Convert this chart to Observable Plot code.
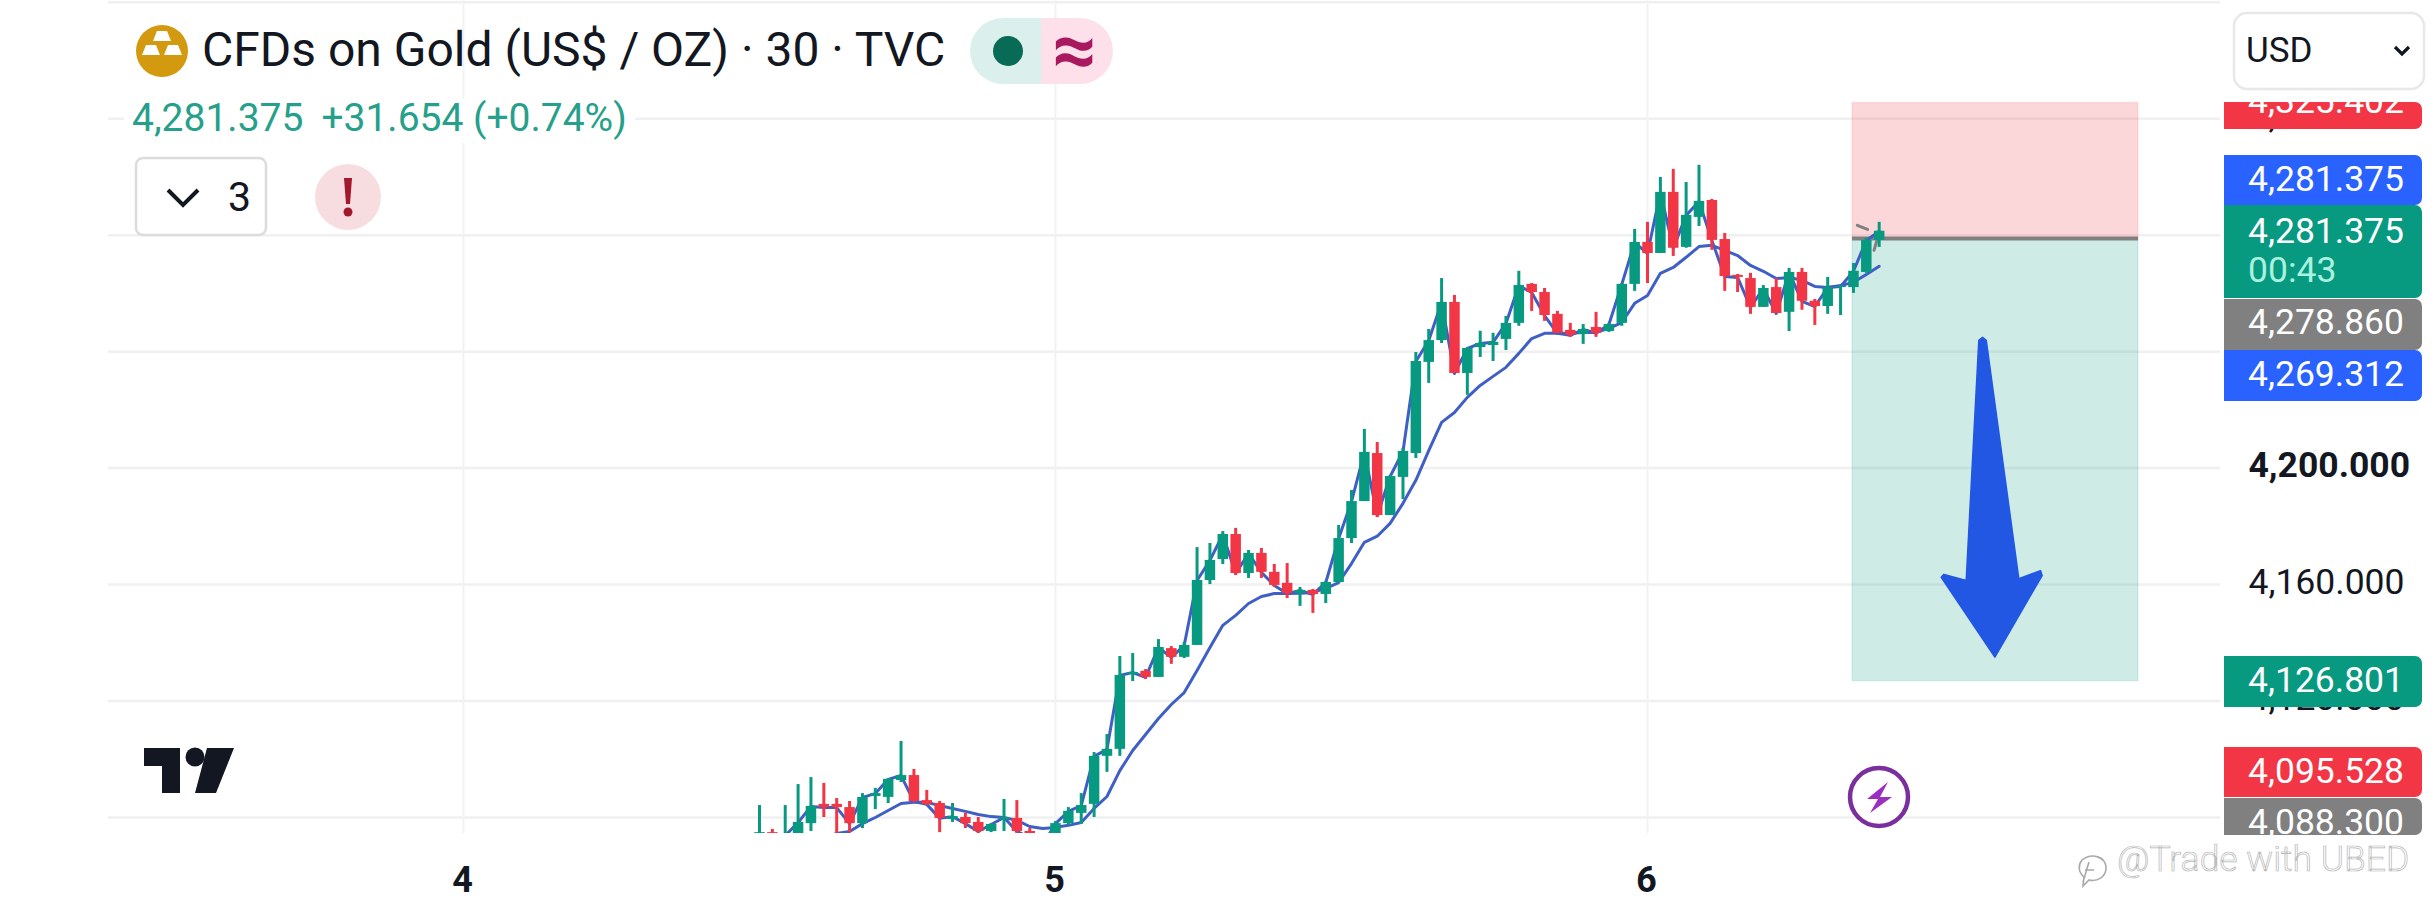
<!DOCTYPE html>
<html><head><meta charset="utf-8">
<script src="https://cdn.jsdelivr.net/npm/d3@7"></script>
<script src="https://cdn.jsdelivr.net/npm/@observablehq/plot@0.6"></script>
<style>
html,body{margin:0;padding:0;background:#fff;width:2436px;height:914px;overflow:hidden;font-family:Roboto,sans-serif}
#wrap{position:relative;width:2436px;height:914px}
#chart{position:absolute;left:0;top:0}
.o{position:absolute;white-space:nowrap;line-height:1}
.chip{position:absolute;left:2224px;width:198px;border-radius:0 7px 7px 0;color:#fff;overflow:hidden;font-size:35.5px}
.chip span{position:absolute;left:24px;line-height:1;white-space:nowrap}
svg.ov{position:absolute;left:0;top:0;pointer-events:none}
</style></head><body>
<div id="wrap"><div id="chart"></div>
<svg class="ov" width="2436" height="914" viewBox="0 0 2436 914">
  <circle cx="162" cy="51" r="26" fill="#d39a10"/>
  <path d="M157 32h10l4 10h-18z M146 46h10l4 10h-18z M168 46h10l4 10h-18z" fill="#fff" transform="translate(0 -1)"/>
  <rect x="136" y="158" width="130" height="77" rx="7" fill="#fff" stroke="#dcdcdc" stroke-width="2.5"/>
  <path d="M168 190l15 15 15-15" fill="none" stroke="#131722" stroke-width="4"/>
  <circle cx="348" cy="197" r="33" fill="#f8dde0"/>
  <path d="M344 178h8l-2 26h-4z" fill="#a3182a"/><circle cx="348" cy="212" r="4.5" fill="#a3182a"/>
  <path d="M970 51a33 33 0 0 1 33-33h38v66h-38a33 33 0 0 1-33-33z" fill="#dbf0ec"/>
  <path d="M1041 18h39a33 33 0 0 1 0 66h-39z" fill="#fde0ea"/>
  <circle cx="1008" cy="51" r="15" fill="#086b56"/>
  <path d="M144 748h36v45h-18v-27h-18z" fill="#131722"/>
  <circle cx="195" cy="757" r="9.5" fill="#131722"/>
  <path d="M207 748h27l-18 45h-21z" fill="#131722"/>
  <circle cx="1879" cy="797" r="29" fill="#fff" stroke="#7b2f9f" stroke-width="4.5"/>
  <path d="M1888 782l-21 17h11l-8 14 22-16h-12z" fill="#9a2fc0"/>
  <rect x="2234" y="13" width="190" height="76" rx="13" fill="#fff" stroke="#e8e8e8" stroke-width="2.5"/>
  <path d="M2395 47l7 7 7-7" fill="none" stroke="#131722" stroke-width="3.2"/>
  <path d="M2082 860c10-8 24-3 24 8 0 9-9 14-17 12l-6 6 1-9c-6-5-6-12-2-17zM2089 862l-6 20M2085 870h9" fill="none" stroke="#a9a9a9" stroke-width="1.6"/>
</svg>
<div class="o" style="left:202px;top:26px;font-size:48px;color:#131722" id="title">CFDs on Gold (US$ / OZ) · 30 · TVC</div>
<div class="o" style="left:1052px;top:11px;font-size:78px;font-weight:700;color:#a8195f">≈</div>
<div class="o" style="left:124px;top:99px;padding:0 8px;background:#fff;font-size:39px;color:#26a08b;height:44px">4,281.375<span style="margin-left:18px">+31.654 (+0.74%)</span></div>
<div class="o" style="left:228px;top:177px;font-size:41px;color:#131722">3</div>
<div class="o" style="left:2246px;top:33px;font-size:35px;color:#131722">USD</div>
<div class="chip" style="top:102px;height:27px;background:#f23645"><span style="top:-18px">4,325.402</span></div>
<div class="chip" style="top:155px;height:50px;background:#2962ff"><span style="top:7px">4,281.375</span></div>
<div class="chip" style="top:205px;height:93px;background:#089981"><span style="top:9px">4,281.375</span><span style="top:48px;color:#a9f2df">00:43</span></div>
<div class="chip" style="top:299px;height:51px;background:#808080"><span style="top:6px">4,278.860</span></div>
<div class="chip" style="top:350px;height:51px;background:#2962ff"><span style="top:7px">4,269.312</span></div>
<div class="chip" style="top:656px;height:51px;background:#089981"><span style="top:7px">4,126.801</span></div>
<div class="chip" style="top:747px;height:50px;background:#f23645"><span style="top:7px">4,095.528</span></div>
<div class="chip" style="top:798px;height:37px;background:#808080"><span style="top:7px">4,088.300</span></div>
<div class="o" style="left:2117px;top:842px;font-size:35.5px;font-weight:300;color:#fff;-webkit-text-stroke:.7px #b5b5b5">@Trade with UBED</div>
</div>
<script>
const firstBar = -23;
const open = [4073.1,4074.8,4070.4,4073.1,4077.9,4084.5,4084.5,4083.4,4077.9,4087.2,4086.9,4092.7,4094.4,4085.8,4084.8,4079.3,4080,4078.3,4075.2,4079.3,4079.7,4075.2,4072.8,
4072.1,4077.9,4081.4,4084.5,4101,4103.4,4129.1,4130.2,4128.1,4138,4135,4139.1,4161.4,4168.6,4177.2,4163.8,4170.7,4164.2,4160.4,4156.9,4158,4156.6,4160.7,4175.8,4188.5,4205,4183.7,4196.8,4205,4236.3,4243.8,4256.9,4232.5,4241.4,4242.1,4244.2,4249.7,4263.1,4260.3,4252.8,4247.3,4245.9,4248.3,4246.9,4249.7,4263.1,4277.5,4273.7,4294.7,4275.8,4286.1,4291.9,4278.5,4266.2,4265.1,4255.2,4262,4253.5,4267.2,4257.3,4255.5,4262,4262,4267.2,4278.2];
const high = [4084.1,4075.9,4084.1,4091.3,4093.7,4091.7,4086.5,4085.5,4088.2,4090,4093.4,4106.1,4096.5,4089.3,4085.5,4084.8,4081.4,4080,4077.9,4086.2,4085.8,4076.2,4073.8,
4078.6,4083.4,4088.2,4102.3,4108.5,4135.3,4136.3,4130.8,4141.1,4138.7,4140.1,4172.7,4174.1,4178.2,4179.3,4171.7,4172.4,4166.9,4167.2,4159,4158.3,4161.1,4180.3,4192.3,4213.3,4208.8,4197.5,4206.8,4239.7,4247.6,4265.1,4259.3,4241.4,4247,4246.3,4252.1,4267.6,4263.4,4261.7,4253.8,4249.7,4249.3,4253.5,4249.7,4263.4,4282,4284.4,4299.8,4302.6,4298.1,4304,4292.3,4280.6,4266.5,4266.9,4262.7,4265.1,4268.6,4268.6,4257.9,4265.5,4262.7,4270.3,4278.9,4284.4];
const low = [4072.1,4072.1,4068.7,4072.1,4075.2,4080,4073.1,4074.8,4076.2,4082.7,4084.8,4092,4085.2,4084.1,4074.8,4078.3,4076.2,4074.5,4074.8,4075.2,4074.5,4072.8,4068.7,
4070.4,4077.3,4077.6,4080,4095.5,4101,4126.7,4127.4,4128.1,4132.6,4134.6,4139.1,4160,4166.9,4163.1,4162.1,4162.1,4159,4155.2,4152.5,4150.1,4153.5,4160.4,4174.1,4188.5,4183,4183.7,4189.2,4203.3,4229.1,4242.8,4232.5,4225,4238,4236.6,4240.4,4248.7,4253.8,4250.4,4246.3,4244.9,4242.5,4244.9,4246.6,4248.7,4260.7,4263.4,4273.7,4272.7,4275.5,4283,4274.8,4260.7,4260.3,4252.8,4255.2,4253.1,4246.9,4254.2,4249,4252.8,4252.4,4260,4266.9,4275.8];
const close = [4074.8,4073.1,4073.8,4078.3,4083.8,4083.4,4083.4,4077.9,4086.9,4088.2,4093.1,4094.4,4085.5,4084.5,4079.7,4080.3,4077.9,4075.2,4077.6,4080,4075.2,4073.1,4070.4,
4077.9,4082.1,4084.1,4101,4103.4,4128.8,4129.8,4128.1,4138.4,4135,4139.1,4161.4,4168.3,4177.2,4163.8,4170.7,4164.2,4159.7,4156.9,4158,4156.6,4160.7,4175.8,4188.5,4205.4,4183.7,4197.1,4205.7,4236.6,4243.8,4256.9,4232.5,4241.1,4242.8,4243.2,4249.7,4262.7,4260.3,4252.4,4246.3,4245.6,4247.6,4246.3,4249.3,4263.1,4277.5,4273.7,4294.7,4275.5,4286.8,4291.6,4278.2,4265.8,4265.5,4255.2,4261.7,4253.1,4267.2,4257.3,4255.5,4262,4262.4,4267.6,4278.2,4281.375];
const slowStart = -18;
const slowLine = [4073.1,4074.5,4075.2,4077.9,4080,4082.4,4084.8,4085.2,4085.2,4084.1,4083.1,4082.1,4081,4080.3,4080,4079,4076.9,4076.2,4076.6,4077.3,4078.3,4083.1,4087.2,4096.1,4103,4108.5,4114,4118.8,4122.9,4130.5,4138.4,4146,4149.4,4153.5,4155.9,4156.9,4156.9,4157,4157.3,4158.7,4160.7,4167.2,4174.5,4176.6,4181,4187.9,4195.8,4206,4215.7,4219.1,4224.3,4228.4,4231.5,4234.6,4239.4,4244.5,4246.3,4246.3,4246.3,4246.6,4246.6,4248,4250,4256.6,4259.3,4266.9,4268.9,4272.4,4276.1,4276.5,4274.8,4273,4269.6,4267.6,4265.1,4265.5,4264.5,4262.4,4262,4262.7,4263.8,4266.5,4269.312];
const dayBars = [-46,0,46];
const dayLabels = ["4","5","6"];
const priceTicks = [4120,4160,4320];
const boldTick = [4200];
const gridPrices = [4080,4120,4160,4200,4240,4280,4320,4360];
const stopPrice = 4325.402, entryPrice = 4278.86, targetPrice = 4126.801;
const boxStart = 61.93, boxEnd = 84.15;
const arrowBars = [71.74,72.03,72.32,74.85,76.53,76.66,72.99,68.82,69.03,70.76,71.74];
const arrowPrices = [4243.85,4244.9,4243.85,4162,4164.8,4163.1,4135.1,4162.5,4163.5,4161.4,4243.85];
const greyBars = [62.3,63.1], greyPrices = [4283.4,4282];
const greyBars2 = [63.6,64], greyPrices2 = [4274.8,4281];

const bars = open.map((o,k)=>({i:firstBar+k,open:o,high:high[k],low:low[k],close:close[k]}));
const slow = slowLine.map((p,k)=>({i:slowStart+k,p}));
const UP="#089981", DOWN="#f23645", LINE="#3f5fc6";
const colour = d => d.close>=d.open?UP:DOWN;

const plot = Plot.plot({
  width:2436,height:914,marginLeft:108,marginRight:216,marginTop:0,marginBottom:81,
  style:{fontFamily:"Roboto,sans-serif",background:"transparent",color:"#131722",overflow:"visible"},
  x:{type:"linear",domain:[-73.58,90.52],axis:null},
  y:{type:"linear",domain:[4074.5,4360.6],axis:null},
  marks:[
    Plot.ruleY(gridPrices,{stroke:"#f0f0f0",strokeWidth:2.5}),
    Plot.ruleX(dayBars,{stroke:"#f2f2f2",strokeWidth:2}),
    Plot.rect([{x1:boxStart,x2:boxEnd,y1:entryPrice,y2:stopPrice}],{x1:"x1",x2:"x2",y1:"y1",y2:"y2",fill:"#f23645",fillOpacity:.2,stroke:"#f23645",strokeOpacity:.1,strokeWidth:1.5}),
    Plot.rect([{x1:boxStart,x2:boxEnd,y1:targetPrice,y2:entryPrice}],{x1:"x1",x2:"x2",y1:"y1",y2:"y2",fill:"#089981",fillOpacity:.2,stroke:"#089981",strokeOpacity:.1,strokeWidth:1.5}),
    Plot.ruleY([entryPrice],{x1:boxStart,x2:boxEnd,stroke:"#808080",strokeWidth:4}),
    Plot.line(arrowBars.map((x,k)=>({x,y:arrowPrices[k]})),{x:"x",y:"y",fill:"#2257e4",stroke:"#2257e4",strokeWidth:1.5,strokeLinejoin:"round"}),
    Plot.line(slow,{x:"i",y:"p",stroke:LINE,strokeWidth:3,clip:true}),
    Plot.line(bars.filter(d=>d.i>=-21),{x:"i",y:"close",stroke:LINE,strokeWidth:3,clip:true}),
    Plot.line(greyBars.map((x,k)=>({x,y:greyPrices[k]})),{x:"x",y:"y",stroke:"#808080",strokeWidth:3}),
    Plot.line(greyBars2.map((x,k)=>({x,y:greyPrices2[k]})),{x:"x",y:"y",stroke:"#808080",strokeWidth:3}),
    Plot.ruleX(bars,{x:"i",y1:"low",y2:"high",stroke:colour,strokeWidth:3,clip:true}),
    Plot.ruleX(bars,{x:"i",y1:"open",y2:"close",stroke:colour,strokeWidth:10.5,clip:true}),
    Plot.axisY(priceTicks,{anchor:"right",tickSize:0,tickPadding:28,dy:-2,fontSize:35.5,tickFormat:d3.format(",.3f"),label:null}),
    Plot.axisY(boldTick,{anchor:"right",tickSize:0,tickPadding:28,dy:-2,fontSize:35.5,fontWeight:700,tickFormat:d3.format(",.3f"),label:null}),
    Plot.axisX(dayBars,{anchor:"bottom",tickSize:0,tickPadding:33,dx:-1,fontSize:36,fontWeight:700,tickFormat:d=>dayLabels[dayBars.indexOf(d)],label:null})
  ]
});
document.getElementById("chart").appendChild(plot);
</script>
</body></html>
